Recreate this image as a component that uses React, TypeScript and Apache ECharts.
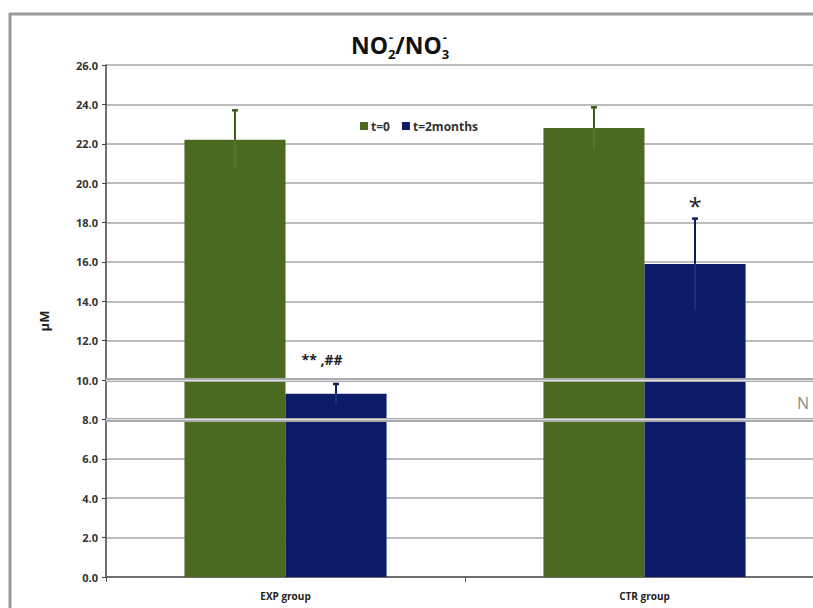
import React, { useEffect, useRef } from 'react';
import * as echarts from 'echarts';

const categories = ['EXP group', 'CTR group'];
const seriesNames = ['t=0', 't=2months'];
const t0Values = [22.2, 22.8];
const t0Errors = [1.5, 1.05];
const t2Values = [9.3, 15.9];
const t2Errors = [0.5, 2.3];
const t2Annotations = ['** ,##', '*'];
const referenceLines = [10, 8];
const yMin = 0;
const yMax = 26;
const yInterval = 2;

const GREEN = '#4b6a1f';
const BLUE = '#0c1c68';
const CAT_GAP = 0.437;
const FONT = '"Open Sans", "Liberation Sans", sans-serif';

export default function App() {
  const ref = useRef<HTMLDivElement>(null);
  useEffect(() => {
    if (!ref.current) return;
    const chart = echarts.init(ref.current, null, { renderer: 'svg' });
    const errData: any[] = [];
    t0Values.forEach((v, i) => errData.push([i, v, t0Errors[i], 0, '']));
    t2Values.forEach((v, i) => errData.push([i, v, t2Errors[i], 1, t2Annotations[i]]));

    const option: any = {
      animation: false,
      backgroundColor: '#ffffff',
      title: {
        left: 346,
        top: 25,
        text: '{a|NO}{s|2}{p|-}{a|/NO}{s|3}{p|-}',
        textStyle: {
          rich: {
            a: { fontSize: 23, fontWeight: 'bold', fontFamily: FONT, color: '#111', lineHeight: 30, verticalAlign: 'middle' },
            s: { fontSize: 13, fontWeight: 'bold', fontFamily: FONT, color: '#111', lineHeight: 30, verticalAlign: 'bottom', width: 0.01 },
            p: { fontSize: 13, fontWeight: 'bold', fontFamily: FONT, color: '#111', lineHeight: 30, verticalAlign: 'top', padding: [0, 2, 0, 1] },
          },
        },
      },
      legend: {
        left: 355,
        top: 115,
        itemWidth: 8,
        itemHeight: 8,
        itemGap: 12,
        icon: 'rect',
        data: seriesNames,
        textStyle: { fontFamily: FONT, fontSize: 12, fontWeight: 'bold', color: '#333', padding: [0, 0, 0, -2] },
      },
      grid: { left: 106, top: 65, width: 718, height: 512, containLabel: false },
      xAxis: {
        type: 'category',
        data: categories,
        axisLine: { lineStyle: { color: '#555', width: 1.5 } },
        axisTick: { show: true, length: 5, interval: 0, lineStyle: { color: '#555' } },
        axisLabel: { fontFamily: FONT, fontSize: 10, fontWeight: 'bold', color: '#222', margin: 14 },
        splitLine: { show: false },
      },
      yAxis: {
        type: 'value',
        min: yMin,
        max: yMax,
        interval: yInterval,
        name: 'µM',
        nameLocation: 'middle',
        nameRotate: 90,
        nameGap: 56,
        nameTextStyle: { fontFamily: FONT, fontSize: 13, fontWeight: 'bold', color: '#222' },
        axisLine: { show: true, lineStyle: { color: '#444', width: 1.5 } },
        axisTick: { show: true, length: 4, lineStyle: { color: '#444' } },
        axisLabel: {
          fontFamily: FONT, fontSize: 11, fontWeight: 'bold', color: '#333', margin: 8,
          formatter: (v: number) => v.toFixed(1),
        },
        splitLine: { show: true, lineStyle: { color: '#a6a6a6', width: 1.5 } },
      },
      series: [
        {
          name: seriesNames[0],
          type: 'bar',
          data: t0Values,
          barGap: '0%',
          barCategoryGap: (CAT_GAP * 100).toFixed(1) + '%',
          itemStyle: { color: GREEN },
        },
        {
          name: seriesNames[1],
          type: 'bar',
          data: t2Values,
          barGap: '0%',
          barCategoryGap: (CAT_GAP * 100).toFixed(1) + '%',
          itemStyle: { color: BLUE },
          markLine: {
            silent: true,
            symbol: 'none',
            label: { show: false },
            z: 10,
            lineStyle: { color: '#a9a9a9', width: 4, type: 'solid' },
            data: referenceLines.map((v) => ({ yAxis: v })),
          },
        },
        {
          name: 'refInner',
          type: 'line',
          data: [],
          markLine: {
            silent: true,
            symbol: 'none',
            label: { show: false },
            z: 11,
            lineStyle: { color: '#dde4ee', width: 1.2, type: 'solid' },
            data: referenceLines.map((v) => ({ yAxis: v })),
          },
        },
        {
          name: 'errors',
          type: 'custom',
          z: 12,
          data: errData,
          encode: { x: 0, y: 1 },
          renderItem: (params: any, api: any) => {
            const ci = api.value(0);
            const v = api.value(1);
            const e = api.value(2);
            const si = api.value(3);
            const ann = errData[params.dataIndex][4];
            const catW = api.size([1, 0])[0];
            const barW = (catW * (1 - CAT_GAP)) / 2;
            const base = api.coord([ci, v]);
            const x = base[0] + (si === 0 ? -barW / 2 : barW / 2);
            const yv = base[1];
            const yt = api.coord([ci, v + e])[1];
            const yb = api.coord([ci, v - e])[1];
            const col = si === 0 ? '#3d5a17' : '#0a1a5a';
            const inner = si === 0 ? '#5a7a2c' : '#1c3a80';
            const children: any[] = [
              { type: 'line', shape: { x1: x, y1: yv, x2: x, y2: yb }, style: { stroke: inner, lineWidth: 1.5 } },
              { type: 'line', shape: { x1: x, y1: yt, x2: x, y2: yv }, style: { stroke: col, lineWidth: 2 } },
              { type: 'line', shape: { x1: x - 3, y1: yt, x2: x + 3, y2: yt }, style: { stroke: col, lineWidth: 2.5 } },
            ];
            if (ann) {
              const big = ann === '*';
              children.push({
                type: 'text',
                style: {
                  text: ann,
                  x: big ? x : x - 14,
                  y: big ? yt - 1 : yt - 18,
                  textAlign: 'center',
                  textVerticalAlign: 'bottom',
                  fontFamily: FONT,
                  fontSize: big ? 24 : 14,
                  fontWeight: big ? 'normal' : 'bold',
                  fill: '#222',
                },
              });
            }
            return { type: 'group', children };
          },
        },
      ],
      graphic: [
        {
          type: 'rect',
          shape: { x: 10, y: 14, width: 840, height: 620 },
          style: { fill: 'none', stroke: '#9a9a9a', lineWidth: 3 },
          silent: true,
          z: -1,
        },
        {
          type: 'text',
          x: 797,
          y: 395,
          style: { text: 'N', fontFamily: FONT, fontSize: 16, fill: '#8a8a8a' },
          silent: true,
        },
      ],
    };
    chart.setOption(option);
    return () => chart.dispose();
  }, []);
  return <div ref={ref} style={{ position: 'fixed', left: 0, top: 0, width: 840, height: 608 }} />;
}
